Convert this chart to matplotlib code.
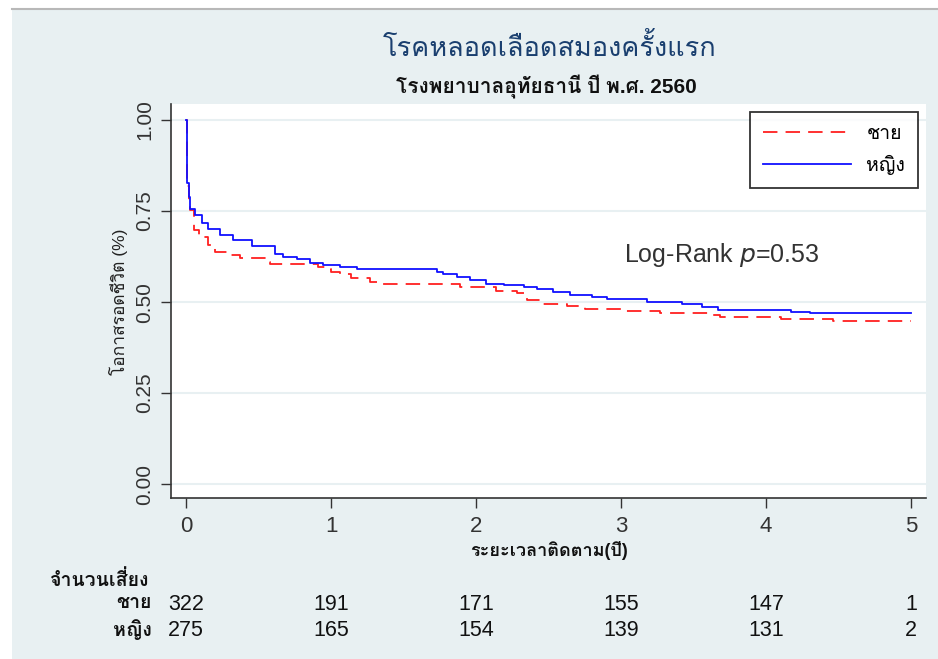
import matplotlib
matplotlib.use("Agg")
import matplotlib.pyplot as plt
from matplotlib import font_manager
from matplotlib.ft2font import FT2Font
from matplotlib.patches import Rectangle
from matplotlib.lines import Line2D

# Kaplan-Meier steps (time in years, survival)
male_t = [0, 0.005, 0.02, 0.03, 0.055, 0.09, 0.12, 0.15, 0.20, 0.30, 0.37, 0.556, 0.58,
          0.91, 0.98, 1.00, 1.06, 1.14, 1.27, 1.36, 1.89, 2.14, 2.28, 2.35, 2.44, 2.63,
          2.75, 3.02, 3.27, 3.61, 3.68, 4.10, 4.46, 5.00]
male_s = [1.0, 0.820, 0.780, 0.753, 0.698, 0.685, 0.679, 0.657, 0.638, 0.629, 0.620, 0.611, 0.604,
          0.597, 0.590, 0.583, 0.577, 0.565, 0.556, 0.551, 0.542, 0.531, 0.524, 0.507, 0.496, 0.489,
          0.482, 0.476, 0.469, 0.464, 0.458, 0.453, 0.449, 0.449]

female_t = [0, 0.005, 0.02, 0.03, 0.062, 0.108, 0.154, 0.234, 0.326, 0.453, 0.614, 0.671, 0.763,
            0.855, 0.947, 1.06, 1.18, 1.73, 1.77, 1.87, 1.96, 2.07, 2.19, 2.33, 2.42, 2.53,
            2.65, 2.80, 2.90, 3.18, 3.42, 3.56, 3.67, 4.17, 4.30, 5.00]
female_s = [1.0, 0.826, 0.789, 0.757, 0.739, 0.716, 0.702, 0.684, 0.670, 0.655, 0.632, 0.625, 0.617,
            0.608, 0.602, 0.597, 0.590, 0.583, 0.577, 0.568, 0.560, 0.551, 0.547, 0.542, 0.537, 0.528,
            0.520, 0.513, 0.508, 0.499, 0.494, 0.487, 0.478, 0.473, 0.469, 0.469]

risk_times = [0, 1, 2, 3, 4, 5]
risk_male = [322, 191, 171, 155, 147, 1]
risk_female = [275, 165, 154, 139, 131, 2]

group_labels = ["ชาย", "หญิง"]
title = "โรคหลอดเลือดสมองครั้งแรก"
subtitle = "โรงพยาบาลอุทัยธานี ปี พ.ศ. 2560"
ylabel = "โอกาสรอดชีวิต (%)"
xlabel = "ระยะเวลาติดตาม(ปี)"
risk_header = "จำนวนเสี่ยง"

# find a font that can draw Thai
thai_fams = []
for f in font_manager.fontManager.ttflist:
    try:
        if 0x0E01 in FT2Font(f.fname).get_charmap():
            if f.name not in thai_fams:
                thai_fams.append(f.name)
    except Exception:
        pass
fams = ["Liberation Sans"] + thai_fams + ["DejaVu Sans"]
plt.rcParams["font.family"] = fams

W, H = 938, 659
fig = plt.figure(figsize=(W / 100, H / 100), dpi=100, facecolor="white")
bg = "#e8f0f2"
fig.patches.append(Rectangle((12 / W, 0), 1, 1 - 9 / H, transform=fig.transFigure,
                             facecolor=bg, edgecolor="none", zorder=-10))
fig.lines.append(Line2D([12 / W, 1], [1 - 8.5 / H, 1 - 8.5 / H], transform=fig.transFigure,
                        color="#b8b8b8", lw=1.5))

def fx(px):
    return px / W

def fy(py):
    return 1 - py / H

ax = fig.add_axes([fx(171), fy(498), fx(926) - fx(171), fy(104) - fy(498)])
ax.set_facecolor("white")
ax.step(male_t, male_s, where="post", color="#ff2020", lw=1.3, dashes=(8, 4.5), label=group_labels[0])
ax.step(female_t, female_s, where="post", color="#1010ff", lw=1.3, label=group_labels[1])

ax.set_xlim(-0.104, 5.103)
ax.set_ylim(-0.038, 1.044)
ax.set_xticks(risk_times)
ax.set_yticks([0, 0.25, 0.5, 0.75, 1.0])
ax.set_yticklabels(["0.00", "0.25", "0.50", "0.75", "1.00"], rotation=90, va="center")
ax.tick_params(direction="out", length=7, width=1, colors="#333333")
ax.tick_params(axis="x", labelsize=16, pad=6)
ax.tick_params(axis="y", labelsize=15, pad=5)
ax.grid(axis="y", color=bg, lw=1.5)
ax.set_axisbelow(True)
for s in ["top", "right"]:
    ax.spines[s].set_visible(False)
for s in ["left", "bottom"]:
    ax.spines[s].set_color("#333333")
    ax.spines[s].set_linewidth(1.2)

leg = ax.legend(loc="upper left", bbox_to_anchor=(fx(750), fy(112)), bbox_transform=fig.transFigure,
                fontsize=14, frameon=True, fancybox=False, handlelength=4.5, handletextpad=0.8,
                borderpad=0.68, labelspacing=0.62, borderaxespad=0)
leg.get_frame().set_edgecolor("black")
leg.get_frame().set_linewidth(1.3)

fig.text(fx(624), fy(255), "Log-Rank $\\it{p}$=0.53", fontsize=18, color="#333333", va="center")

fig.text(fx(550), fy(48), title, fontsize=19.5, color="#1a3f6f", ha="center", va="center")
fig.text(fx(546), fy(87), subtitle, fontsize=15, fontweight="bold", color="#111111", ha="center", va="center")
fig.text(fx(118), fy(302), ylabel, fontsize=12.5, rotation=90, ha="center", va="center", color="#222222")
fig.text(fx(549), fy(550), xlabel, fontsize=13, fontweight="bold", ha="center", va="center", color="#111111")

# number at risk table
fig.text(fx(50), fy(580), risk_header, fontsize=14, fontweight="bold", va="center", color="#111111")
for row_y, lab, vals in [(604, group_labels[0], risk_male), (630, group_labels[1], risk_female)]:
    fig.text(fx(152), fy(row_y), lab, fontsize=14, fontweight="bold", ha="right", va="center", color="#111111")
    for t, v in zip(risk_times, vals):
        xd = ax.transData.transform((t, 0))[0]
        fig.text(xd / fig.dpi / fig.get_figwidth(), fy(row_y), str(v), fontsize=15.5,
                 ha="center", va="center", color="#111111")

fig.savefig("out.png", dpi=100, facecolor="white")
